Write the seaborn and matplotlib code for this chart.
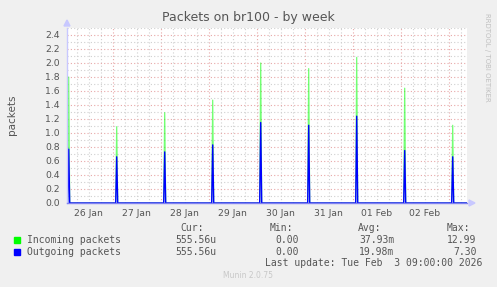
import matplotlib
matplotlib.use("Agg")
import matplotlib.pyplot as plt
import matplotlib.dates as mdates
from matplotlib.ticker import MultipleLocator, FuncFormatter
from matplotlib.patches import Rectangle, Polygon
import seaborn as sns
import pandas as pd
import numpy as np

# ---- data ----
spike_days = ["2026-01-26", "2026-01-27", "2026-01-28", "2026-01-29", "2026-01-30",
              "2026-01-31", "2026-02-01", "2026-02-02", "2026-02-03"]
spike_hour = 2.0
incoming_peaks = [1.80, 1.09, 1.29, 1.47, 2.00, 1.92, 2.08, 1.64, 1.11]
outgoing_peaks = [0.77, 0.66, 0.73, 0.83, 1.15, 1.11, 1.24, 0.75, 0.66]
range_start = "2026-01-26 01:09"
range_end = "2026-02-03 09:09"
title = "Packets on br100 - by week"
ylabel = "packets"
legend_names = ["Incoming packets", "Outgoing packets"]
legend_cur = ["555.56u", "555.56u"]
legend_min = ["0.00", "0.00"]
legend_avg = ["37.93m", "19.98m"]
legend_max = ["12.99", "7.30"]
legend_colors = ["#00FF00", "#0000FF"]

# build series: zero baseline with a single-sample spike each day
rows = []
for series, peaks in (("Incoming", incoming_peaks), ("Outgoing", outgoing_peaks)):
    rows.append((pd.Timestamp(range_start), 0.0, series))
    for d, p in zip(spike_days, peaks):
        t = pd.Timestamp(d) + pd.Timedelta(hours=spike_hour)
        rows.append((t - pd.Timedelta(minutes=30), 0.0, series))
        rows.append((t, p, series))
        rows.append((t + pd.Timedelta(minutes=30), 0.0, series))
    rows.append((pd.Timestamp(range_end), 0.0, series))
df = pd.DataFrame(rows, columns=["time", "value", "series"])

# ---- figure ----
W, H = 497, 287
sns.set_style("white")
plt.rcParams["font.family"] = ["DejaVu Sans"]
fig = plt.figure(figsize=(W / 100, H / 100), dpi=100, facecolor="#F0F0F0")
L, R, T, B = 67, 467, 28, 203
ax = fig.add_axes([L / W, 1 - B / H, (R - L) / W, (B - T) / H])
ax.set_facecolor("white")

sns.lineplot(data=df[df.series == "Incoming"], x="time", y="value",
             color=legend_colors[0], alpha=0.55, linewidth=0.9, ax=ax,
             estimator=None, sort=False)
sns.lineplot(data=df[df.series == "Outgoing"], x="time", y="value",
             color=legend_colors[1], linewidth=1.0, ax=ax,
             estimator=None, sort=False)

ax.set_xlim(pd.Timestamp(range_start), pd.Timestamp(range_end))
ax.set_ylim(0, 2.5)

# grids
ax.yaxis.set_major_locator(MultipleLocator(0.2))
ax.yaxis.set_minor_locator(MultipleLocator(0.1))
ax.yaxis.set_major_formatter(FuncFormatter(lambda v, p: f"{v:.1f}"))
ax.xaxis.set_major_locator(mdates.DayLocator())
ax.xaxis.set_minor_locator(mdates.HourLocator(byhour=[0, 6, 12, 18]))
ax.xaxis.set_major_formatter(FuncFormatter(lambda v, p: ""))

def minor_fmt(v, p):
    d = mdates.num2date(v)
    return d.strftime("%d %b") if d.hour == 12 else ""
ax.xaxis.set_minor_formatter(FuncFormatter(minor_fmt))

ax.grid(which="minor", color="#D0D0D0", linestyle=(0, (1, 2)), linewidth=0.8)
ax.grid(which="major", color="#E8A8A8", linestyle=(0, (1, 2)), linewidth=0.8)
ax.set_axisbelow(True)

ax.tick_params(axis="y", which="major", length=2, color="#E8A8A8", labelsize=6.7,
               labelcolor="#555555", pad=3)
ax.tick_params(axis="y", which="minor", length=0)
ax.tick_params(axis="x", which="major", length=2.5, color="#E8A8A8", pad=3, direction="out")
ax.tick_params(axis="x", which="minor", length=1.5, color="#C8C8C8", labelsize=6.7,
               labelcolor="#555555", pad=3)

for s in ("top", "right"):
    ax.spines[s].set_visible(False)
ax.spines["left"].set_color("#C8C8FF")
ax.spines["bottom"].set_color("#8080F0")
ax.spines["left"].set_linewidth(1.0)
ax.spines["bottom"].set_linewidth(1.0)
ax.set_xlabel("")
ax.set_ylabel("")

# axis arrows (figure pixel coordinates)
def px(x, y):
    return (x / W, 1 - y / H)
fig.patches.append(Polygon([px(64, 26), px(70, 26), px(67, 20)], closed=True,
                           transform=fig.transFigure, color="#C8C8FF"))
fig.patches.append(Polygon([px(469, 200), px(469, 206), px(475, 203)], closed=True,
                           transform=fig.transFigure, color="#C8C8FF"))

# texts
fig.text(248 / W, 1 - 18 / H, title, ha="center", va="center", fontsize=9, color="#555555")
fig.text(12 / W, 1 - 115 / H, ylabel, ha="center", va="center", rotation=90,
         fontsize=7.5, color="#555555")
fig.text(487 / W, 1 - 13 / H, "RRDTOOL / TOBI OETIKER", ha="center", va="top",
         rotation=270, fontsize=5, color="#C0C0C0")

mono = "DejaVu Sans Mono"
fs = 7
tc = "#555555"
hy = 227.7
for lab, xr in (("Cur:", 204), ("Min:", 292.7), ("Avg:", 381), ("Max:", 470)):
    fig.text(xr / W, 1 - hy / H, lab, ha="right", va="center", family=mono, fontsize=fs, color=tc)
for i, yrow in enumerate((239.7, 251.7)):
    fig.patches.append(Rectangle(px(14, yrow + 3), 6 / W, 6 / H, transform=fig.transFigure,
                                 color=legend_colors[i]))
    fig.text(26.7 / W, 1 - yrow / H, legend_names[i], ha="left", va="center",
             family=mono, fontsize=fs, color=tc)
    for val, xr in ((legend_cur[i], 216.7), (legend_min[i], 299),
                    (legend_avg[i], 394.3), (legend_max[i], 476.7)):
        fig.text(xr / W, 1 - yrow / H, val, ha="right", va="center",
                 family=mono, fontsize=fs, color=tc)
fig.text(482.3 / W, 1 - 263.3 / H, "Last update: Tue Feb  3 09:00:00 2026", ha="right",
         va="center", family=mono, fontsize=fs, color=tc)
fig.text(248 / W, 1 - 276 / H, "Munin 2.0.75", ha="center", va="center",
         fontsize=5.5, color="#C8C8C8")

fig.savefig("out.png", dpi=100, facecolor=fig.get_facecolor())
